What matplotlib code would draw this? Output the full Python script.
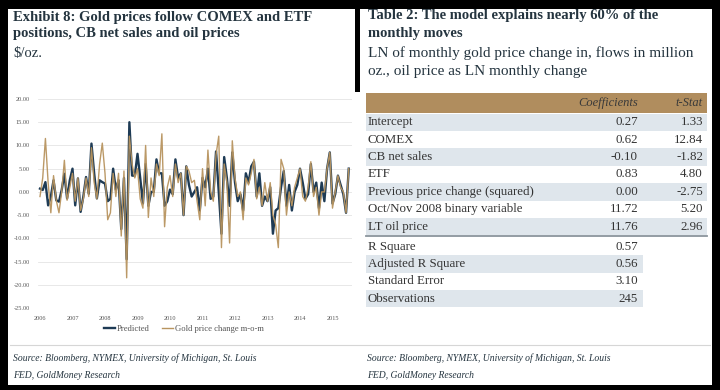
import matplotlib
matplotlib.use("Agg")
import matplotlib.pyplot as plt
from matplotlib.patches import Rectangle
from matplotlib.lines import Line2D

# --- dados ---
anos = ["2006", "2007", "2008", "2009", "2010", "2011", "2012", "2013", "2014", "2015"]

# previsto pelo modelo (variação mensal, 2006-01 .. 2015-07)
previsto = [
    0.7, 0.4, 2.1, -2.9, -1.0, 2.5, -1.8, -2.1, 0.4, 3.9, -1.4, 2.5,
    5.0, -2.9, 2.9, -4.3, -1.0, 3.2, -0.4, 10.4, 4.0, -1.4, 2.5, 2.1,
    1.8, -2.0, -1.5, 5.0, 0.5, 2.5, -8.0, 3.0, -14.5, 15.0, 3.5, 3.5,
    8.2, 3.0, -2.5, 6.0, -3.0, 0.0, 0.0, 7.0, 4.0, 4.0, -3.0, -2.0,
    0.5, -0.5, 7.0, 3.0, 4.0, -5.0, 5.5, 1.5, -1.0, 0.0, 1.0, -4.0,
    3.0, 1.0, 5.0, -1.5, -1.0, 8.7, 0.0, -9.0, 7.5, 3.0, -3.0, 8.5,
    2.0, -2.0, -0.5, -4.0, 4.0, 2.0, 5.5, 6.5, -1.0, 4.0, -3.0, -1.0,
    -2.0, 1.0, -9.0, -4.0, -3.5, 1.0, 4.5, -3.0, 1.5, -4.0, 0.0, 1.5,
    5.0, 2.0, -1.5, -0.5, 6.0, 0.0, 2.0, -3.5, 2.0, -2.0, 5.0, 8.5,
    -2.5, -0.5, 3.5, 1.5, -0.5, -4.5, 5.0,
]

# variação efetiva do preço do ouro
ouro = [
    -1.0, 3.0, 11.5, 2.0, -4.5, 3.5, -1.8, -4.5, 0.0, 6.8, -1.8, 1.0,
    4.0, -2.0, 3.0, -4.0, -1.5, 3.0, -1.0, 9.5, 2.0, -1.5, 6.0, 10.5,
    4.0, -6.0, -4.5, 4.0, -1.0, 4.0, -9.5, 4.5, -18.5, 12.0, 6.0, 3.0,
    5.0, -1.5, -3.5, 10.0, -5.5, 3.0, -1.0, 6.0, 3.5, 12.5, -7.5, 1.0,
    3.5, -1.0, 6.0, 2.0, 4.0, -5.0, 5.5, 4.5, 2.0, 2.5, -2.0, -6.0,
    5.0, -3.0, 9.0, 0.0, -2.0, 8.0, 12.0, -12.0, 6.0, 2.0, -11.0, 11.0,
    3.0, -1.0, 0.0, -6.0, 3.0, 1.5, 4.0, 7.0, -1.5, 1.0, -3.0, 2.0,
    -2.0, 2.0, -5.0, -7.0, -12.0, 7.0, 5.0, -5.0, 0.0, -3.0, 1.0, 3.0,
    5.0, -1.0, -2.0, 1.0, 6.5, -1.0, 1.0, -5.0, 0.0, 0.0, 5.0, 8.5,
    -3.5, 0.0, 3.5, 1.0, 0.0, -4.5, 5.0,
]

variaveis = ["Intercept", "COMEX", "CB net sales", "ETF",
             "Previous price change (squared)", "Oct/Nov 2008 binary variable",
             "LT oil price"]
coeficientes = ["0.27", "0.62", "-0.10", "0.83", "0.00", "11.72", "11.76"]
t_stats = ["1.33", "12.84", "-1.82", "4.80", "-2.75", "5.20", "2.96"]

estatisticas = ["R Square", "Adjusted R Square", "Standard Error", "Observations"]
valores_estat = ["0.57", "0.56", "3.10", "245"]

# --- estilo ---
COR_TITULO = "#24343f"
COR_TEXTO = "#333333"
COR_PREVISTO = "#1e3b55"
COR_OURO = "#b8945f"
COR_CABECALHO = "#b08d5e"
COR_LISTRA = "#dfe6ec"
FONTE = "Liberation Serif"

plt.rcParams["font.family"] = [FONTE, "DejaVu Serif"]

W, H = 720, 390


def fx(x):
    return x / W


def fy(y):
    return 1 - y / H


def caixa(fig, x0, y0, x1, y1, cor, **kw):
    fig.patches.append(Rectangle((fx(x0), fy(y1)), fx(x1) - fx(x0), fy(y0) - fy(y1),
                                 transform=fig.transFigure, facecolor=cor,
                                 edgecolor="none", **kw))


def texto(fig, x, y, s, **kw):
    fig.text(fx(x), fy(y), s, **kw)


fig = plt.figure(figsize=(7.2, 3.9), dpi=100)
fig.patch.set_facecolor("black")

# moldura branca + divisória preta no topo
caixa(fig, 8, 9, 712, 385, "white", zorder=-2)
caixa(fig, 355, 0, 360, 92, "black", zorder=-1)

# --- painel esquerdo: títulos ---
texto(fig, 13, 17, "Exhibit 8: Gold prices follow COMEX and ETF", fontsize=10.5,
      fontweight="bold", color=COR_TITULO, va="center")
texto(fig, 13, 34, "positions, CB net sales and oil prices", fontsize=10.5,
      fontweight="bold", color=COR_TITULO, va="center")
texto(fig, 13, 53, "$/oz.", fontsize=10.5, color=COR_TITULO, va="center")

# --- gráfico de linhas ---
ax = fig.add_axes([fx(38), fy(308), fx(352) - fx(38), fy(99) - fy(308)])
ax.set_zorder(5)
ax.patch.set_visible(False)
meses = list(range(len(previsto)))
ax.plot(meses, previsto, color=COR_PREVISTO, linewidth=1.7, zorder=3,
        solid_joinstyle="round")
ax.plot(meses, ouro, color=COR_OURO, linewidth=1.0, zorder=4, alpha=0.95)

ax.set_xlim(-0.74, 115.2)
ax.set_ylim(-25, 20)
ax.set_yticks(range(-25, 21, 5))
ax.set_yticklabels([f"{v:.2f}" for v in range(-25, 21, 5)])
ax.set_xticks([12 * i for i in range(len(anos))])
ax.set_xticklabels(anos)
ax.tick_params(length=0, labelsize=4.5, labelcolor="#555555", pad=6)
ax.grid(axis="y", color="#e4e4e4", linewidth=0.6)
ax.set_axisbelow(True)
for lado in ax.spines.values():
    lado.set_visible(False)

handles = [Line2D([], [], color=COR_PREVISTO, linewidth=1.7),
           Line2D([], [], color=COR_OURO, linewidth=1.0)]
fig.legend(handles, ["Predicted", "Gold price change m-o-m"], loc="center",
           bbox_to_anchor=(fx(184), fy(329)), ncol=2, frameon=False,
           fontsize=6.2, handlelength=1.3, handletextpad=0.2, columnspacing=1.4,
           labelcolor="#555555")

# --- painel direito: títulos ---
texto(fig, 368, 16, "Table 2: The model explains nearly 60% of the", fontsize=10.5,
      fontweight="bold", color=COR_TITULO, va="center")
texto(fig, 368, 33, "monthly moves", fontsize=10.5, fontweight="bold",
      color=COR_TITULO, va="center")
texto(fig, 368, 53, "LN of monthly gold price change in, flows in million",
      fontsize=11, color=COR_TITULO, va="center")
texto(fig, 368, 72, "oz., oil price as LN monthly change", fontsize=11,
      color=COR_TITULO, va="center")

# --- tabela ---
X0, X1, XC, XT = 366, 707, 638, 703
caixa(fig, X0, 93, X1, 113, COR_CABECALHO, zorder=1)
texto(fig, XC, 103, "Coefficients", fontsize=9, style="italic", color="#3a3a3a",
      ha="right", va="center")
texto(fig, XT, 103, "t-Stat", fontsize=9, style="italic", color="#3a3a3a",
      ha="right", va="center")

ALT = 17.4
y_lin = 113.5
for i, (nome, c, t) in enumerate(zip(variaveis, coeficientes, t_stats)):
    if i % 2 == 0:
        caixa(fig, X0, y_lin, X1, y_lin + ALT, COR_LISTRA, zorder=1)
    ym = y_lin + ALT / 2
    texto(fig, 368, ym, nome, fontsize=9.3, color=COR_TEXTO, va="center")
    texto(fig, XC, ym, c, fontsize=9.3, color=COR_TEXTO, va="center", ha="right")
    texto(fig, XT, ym, t, fontsize=9.3, color=COR_TEXTO, va="center", ha="right")
    y_lin += ALT

fig.add_artist(Line2D([fx(X0), fx(X1)], [fy(y_lin + 1), fy(y_lin + 1)],
                      color="#8a949c", linewidth=1.3))
y_lin += 2.5
for i, (nome, v) in enumerate(zip(estatisticas, valores_estat)):
    if i % 2 == 1:
        caixa(fig, X0, y_lin, 643, y_lin + ALT, COR_LISTRA, zorder=1)
    ym = y_lin + ALT / 2
    texto(fig, 368, ym, nome, fontsize=9.3, color=COR_TEXTO, va="center")
    texto(fig, XC, ym, v, fontsize=9.3, color=COR_TEXTO, va="center", ha="right")
    y_lin += ALT

# --- rodapé ---
fig.add_artist(Line2D([fx(10), fx(710)], [fy(345), fy(345)], color="#d6d6d6",
                      linewidth=0.8))
for x0 in (13, 367):
    texto(fig, x0, 358, "Source: Bloomberg, NYMEX, University of Michigan, St. Louis",
          fontsize=6.9, style="italic", color=COR_TITULO, va="center")
    texto(fig, x0, 376, "FED, GoldMoney Research", fontsize=6.9, style="italic",
          color=COR_TITULO, va="center")

fig.savefig("out.png", dpi=100, facecolor="black")
